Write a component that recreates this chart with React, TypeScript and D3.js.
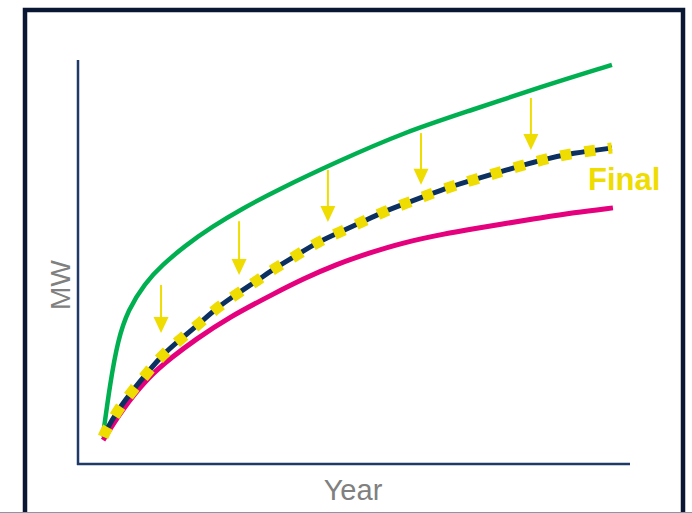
import * as d3 from "d3";

// years on the x axis, MW on the y axis (no ticks shown in the original)
const greenYears = [1.0, 1.28, 1.59, 1.99, 2.67, 3.35, 4.26, 5.34, 6.54, 8.0, 10.32, 12.95, 15.74, 18.41, 21.28];
const greenMW = [7.2, 20.0, 30.7, 38.1, 44.8, 49.2, 54.0, 58.7, 63.2, 68.0, 74.8, 82.0, 87.7, 93.3, 98.8];

const finalYears = [1.0, 1.08, 1.59, 2.19, 2.79, 3.39, 4.15, 4.86, 5.58, 6.38, 7.17, 7.85, 8.73, 9.57, 10.44, 11.32, 12.16, 13.11, 13.95, 14.83, 15.74, 17.1, 18.41, 19.73, 21.28];
const finalMW = [6.7, 7.9, 13.4, 18.3, 22.8, 27.2, 31.2, 34.9, 38.9, 42.3, 45.5, 48.5, 51.7, 55.0, 57.4, 59.9, 62.4, 64.6, 66.6, 68.6, 70.3, 72.8, 75.2, 77.0, 78.2];

const pinkYears = [1.0, 1.75, 2.79, 3.75, 4.66, 5.98, 7.85, 8.97, 10.32, 11.64, 12.95, 14.63, 15.74, 17.1, 18.41, 19.73, 21.32];
const pinkMW = [5.9, 13.4, 21.5, 26.5, 30.7, 36.2, 42.3, 45.8, 49.5, 52.3, 54.8, 57.0, 58.2, 59.6, 60.9, 62.2, 63.4];

// downward arrows: year, start MW, tip MW
const arrowYears = [3.31, 6.42, 9.96, 13.67, 18.05];
const arrowFrom = [44.3, 60.1, 72.8, 81.9, 90.6];
const arrowTo = [32.4, 46.8, 59.9, 69.1, 77.7];

const W = 692;
const H = 513;
const AXIS = "#1f3a68";
const NAVY = "#0c3161";
const YELLOW = "#efdc00";
const GREEN = "#00b050";
const PINK = "#e5007d";
const GRAY = "#808080";

const x = d3.scaleLinear().domain([0, 22]).range([78, 630]);
const y = d3.scaleLinear().domain([0, 100]).range([464, 60]);

const line = d3
  .line<[number, number]>()
  .x((d) => x(d[0]))
  .y((d) => y(d[1]))
  .curve(d3.curveBasis);

const zip = (a: number[], b: number[]) => a.map((v, i) => [v, b[i]] as [number, number]);

export default function App() {
  const green = line(zip(greenYears, greenMW)) ?? "";
  const fin = line(zip(finalYears, finalMW)) ?? "";
  const pink = line(zip(pinkYears, pinkMW)) ?? "";

  return (
    <svg
      width={W}
      height={H}
      style={{ position: "absolute", left: 0, top: 0, background: "#fff" }}
      fontFamily="'Liberation Sans', Arial, sans-serif"
    >
      {/* frame */}
      <rect x={25} y={10} width={658} height={540} fill="none" stroke="#0a1733" strokeWidth={4.5} />
      <line x1={0} x2={W} y1={512.5} y2={512.5} stroke="#8c96a3" strokeWidth={1} />

      {/* axes */}
      <line x1={x(0)} x2={x(0)} y1={y(100)} y2={y(0) + 1} stroke={AXIS} strokeWidth={2.5} />
      <line x1={x(0) - 1} x2={x(22)} y1={y(0)} y2={y(0)} stroke={AXIS} strokeWidth={2.5} />

      <path d={green} fill="none" stroke={GREEN} strokeWidth={4.5} />
      <path d={pink} fill="none" stroke={PINK} strokeWidth={5} />
      <path d={fin} fill="none" stroke={NAVY} strokeWidth={5} />
      <path d={fin} fill="none" stroke={YELLOW} strokeWidth={11} strokeDasharray="11 13" />

      {arrowYears.map((yr, i) => {
        const ax = x(yr);
        const y0 = y(arrowFrom[i]);
        const y1 = y(arrowTo[i]);
        return (
          <g key={i}>
            <line x1={ax} x2={ax} y1={y0} y2={y1 - 14} stroke={YELLOW} strokeWidth={2} />
            <path d={`M${ax - 7.5},${y1 - 16}L${ax + 7.5},${y1 - 16}L${ax},${y1}Z`} fill={YELLOW} />
          </g>
        );
      })}

      <text x={588} y={190} fill={YELLOW} fontSize={31} fontWeight="bold">
        Final
      </text>
      <text x={353} y={500} fill={GRAY} fontSize={29} textAnchor="middle">
        Year
      </text>
      <text
        transform="translate(70,285) rotate(-90)"
        fill={GRAY}
        fontSize={28}
        textAnchor="middle"
      >
        MW
      </text>
    </svg>
  );
}
